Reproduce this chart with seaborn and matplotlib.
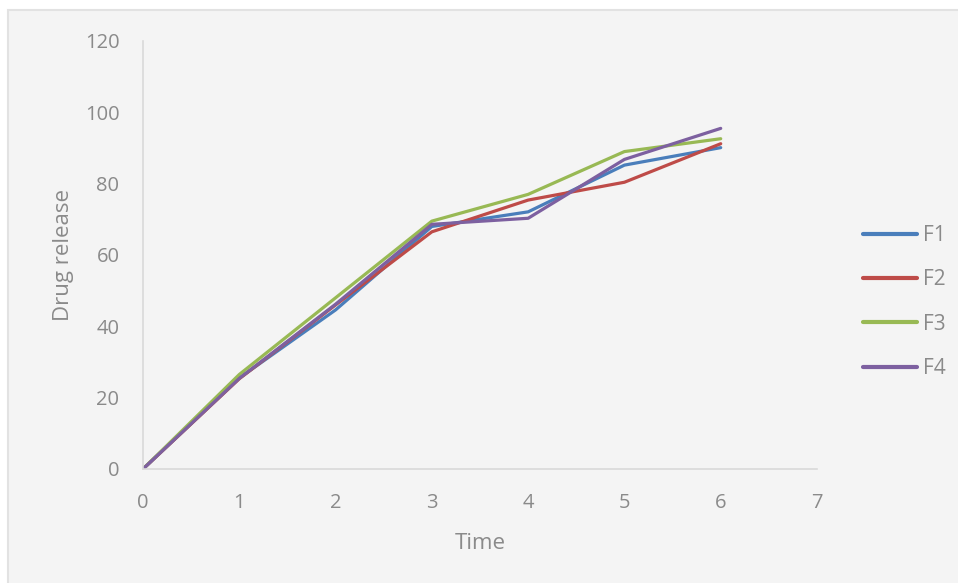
import matplotlib
matplotlib.use("Agg")
import matplotlib.pyplot as plt
from matplotlib.patches import Rectangle
import seaborn as sns
import pandas as pd

# Dissolution profile: cumulative drug release per formulation over time
time = [0, 1, 2, 3, 4, 5, 6]
f1 = [0, 25.5, 44.6, 68.0, 72.1, 85.2, 90.1]
f2 = [0, 25.3, 46.0, 66.5, 75.4, 80.4, 91.2]
f3 = [0, 26.5, 48.0, 69.5, 77.0, 89.0, 92.6]
f4 = [0, 25.4, 46.2, 68.6, 70.3, 86.8, 95.5]
series_names = ["F1", "F2", "F3", "F4"]
colors = ["#4a7ebb", "#be4b48", "#98b954", "#7d60a0"]
x_ticks = [0, 1, 2, 3, 4, 5, 6, 7]
y_ticks = [0, 20, 40, 60, 80, 100, 120]

df = pd.DataFrame({
    "Time": time * 4,
    "Drug release": f1 + f2 + f3 + f4,
    "Formulation": sum([[n] * len(time) for n in series_names], []),
})

sns.set_theme(style="white")
plt.rcParams["font.family"] = ["Open Sans", "DejaVu Sans"]

text_gray = "#8a8a8a"
axis_gray = "#d9d9d9"

fig = plt.figure(figsize=(9.58, 5.83), dpi=100)
fig.patch.set_facecolor("white")
# chart area panel behind everything
panel = Rectangle((8 / 958, -0.01), 1.0, 1 - 10 / 583 + 0.01,
                  transform=fig.transFigure, facecolor="#f4f4f4",
                  edgecolor="#e2e2e2", linewidth=1.5, zorder=-10)
fig.patches.append(panel)

ax = fig.add_axes([143 / 958, 1 - 469 / 583, (817 - 143) / 958, (469 - 41) / 583])
ax.set_zorder(1)
ax.set_facecolor("none")

sns.lineplot(data=df, x="Time", y="Drug release", hue="Formulation",
             palette=colors, linewidth=2.3, ax=ax, legend=False)

ax.set_xlim(0, 7)
ax.set_ylim(0, 120)
ax.set_xticks(x_ticks)
ax.set_yticks(y_ticks)
ax.tick_params(axis="both", length=0, labelsize=14.5, labelcolor=text_gray)
ax.tick_params(axis="y", pad=17)
ax.tick_params(axis="x", pad=17)
for s in ["top", "right"]:
    ax.spines[s].set_visible(False)
for s in ["left", "bottom"]:
    ax.spines[s].set_color(axis_gray)
    ax.spines[s].set_linewidth(1.2)

ax.set_xlabel("Time", fontsize=16, color=text_gray, labelpad=15)
ax.set_ylabel("Drug release", fontsize=16, color=text_gray, labelpad=8)

handles = [plt.Line2D([0], [0], color=c, linewidth=3) for c in colors]
leg = fig.legend(handles, series_names, loc="center left",
                 bbox_to_anchor=(844 / 958, 1 - 302 / 583), frameon=False,
                 fontsize=15, labelcolor=text_gray, handlelength=2.6,
                 handletextpad=0.3, labelspacing=1.12)
leg.set_zorder(2)

fig.savefig("out.png", dpi=100)
